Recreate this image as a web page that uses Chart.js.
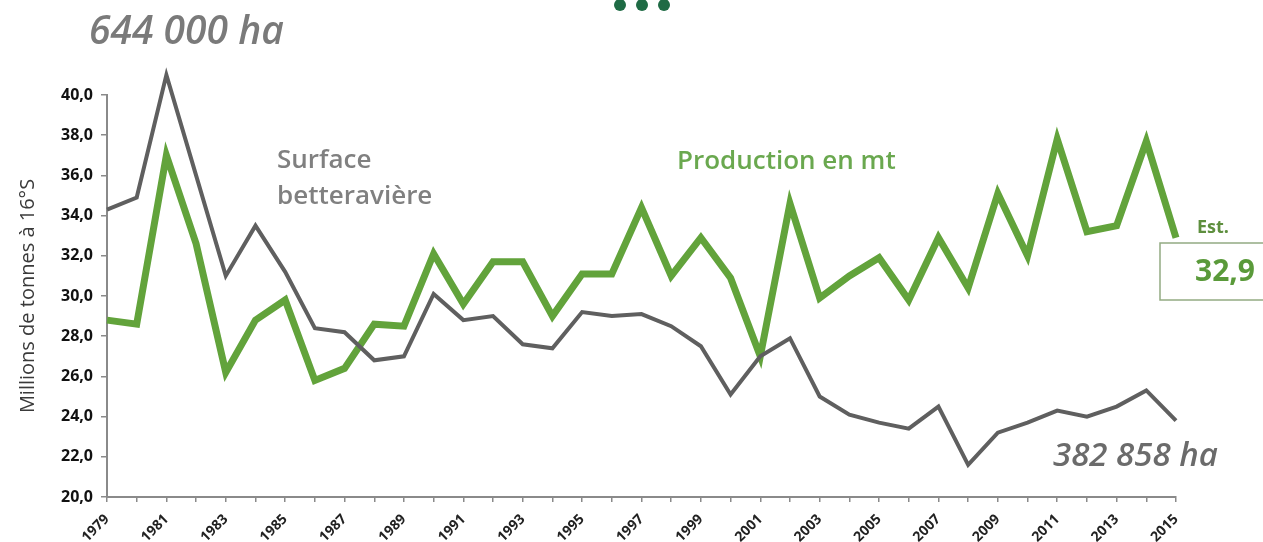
<!DOCTYPE html>
<html>
<head>
<meta charset="utf-8">
<script src="https://cdn.jsdelivr.net/npm/chart.js@4"></script>
<style>
  body { margin: 0; background: #fff; }
  #chart { display: block; }
</style>
</head>
<body>
<canvas id="chart" width="1263" height="542"></canvas>
<script>
// Data
const years = [];
for (let y = 1979; y <= 2015; y++) years.push(String(y));

const surface = [34.3, 34.9, 41.0, 36.0, 31.0, 33.5, 31.2, 28.4, 28.2, 26.8,
  27.0, 30.1, 28.8, 29.0, 27.6, 27.4, 29.2, 29.0, 29.1, 28.5,
  27.5, 25.1, 27.0, 27.9, 25.0, 24.1, 23.7, 23.4, 24.5, 21.6,
  23.2, 23.7, 24.3, 24.0, 24.5, 25.3, 23.8];

const production = [28.8, 28.6, 37.0, 32.6, 26.2, 28.8, 29.8, 25.8, 26.4, 28.6,
  28.5, 32.1, 29.6, 31.7, 31.7, 29.0, 31.1, 31.1, 34.4, 31.0,
  32.9, 30.9, 27.0, 34.6, 29.9, 31.0, 31.9, 29.8, 32.9, 30.4,
  35.1, 32.0, 37.8, 33.2, 33.5, 37.7, 32.9];

const yTicks = [20, 22, 24, 26, 28, 30, 32, 34, 36, 38, 40];

const axisColor = '#8a8a8a';
const greenLine = '#62a33b';
const grayLine = '#5f5f5f';

// Text annotations drawn on top
const annotations = {
    id: 'annotations',
    afterDraw(chart) {
        const ctx = chart.ctx;
        ctx.save();

        // three dots at top
        ctx.fillStyle = '#1f6b45';
        [620, 642, 664].forEach(x => {
            ctx.beginPath();
            ctx.arc(x, 5, 6, 0, Math.PI * 2);
            ctx.fill();
        });

        ctx.textBaseline = 'middle';
        ctx.textAlign = 'left';

        ctx.fillStyle = '#7a7a7a';
        ctx.font = 'italic 600 39px "Open Sans"';
        ctx.fillText('644 000 ha', 89, 33);

        ctx.fillStyle = '#808080';
        ctx.font = '600 26px "Open Sans"';
        ctx.fillText('Surface', 277, 161);
        ctx.fillText('betteravière', 277, 197);

        ctx.fillStyle = '#6aa84f';
        ctx.fillText('Production en mt', 677, 162);

        ctx.fillStyle = '#5e8f3e';
        ctx.font = 'bold 18px "Open Sans"';
        ctx.fillText('Est.', 1197, 228);

        ctx.strokeStyle = '#93ab82';
        ctx.lineWidth = 1.5;
        ctx.strokeRect(1160, 243, 110, 57);
        ctx.fillStyle = '#5a9a3a';
        ctx.font = 'bold 30px "Open Sans"';
        ctx.fillText('32,9', 1195, 272);

        ctx.fillStyle = '#6b6b6b';
        ctx.font = 'italic 600 33px "Open Sans"';
        ctx.fillText('382 858 ha', 1053, 457);

        ctx.restore();
    }
};

new Chart(document.getElementById('chart').getContext('2d'), {
    type: 'line',
    data: {
        labels: years,
        datasets: [{
            label: 'Surface betteravière',
            data: surface,
            borderColor: grayLine,
            borderWidth: 4,
            pointRadius: 0,
            tension: 0,
            clip: false
        }, {
            label: 'Production en mt',
            data: production,
            borderColor: greenLine,
            borderWidth: 7,
            pointRadius: 0,
            tension: 0,
            clip: false
        }]
    },
    options: {
        responsive: false,
        animation: false,
        layout: { padding: { top: 95, right: 87, left: 14, bottom: 0 } },
        plugins: {
            legend: { display: false },
            tooltip: { enabled: false }
        },
        scales: {
            x: {
                offset: false,
                border: { color: axisColor, width: 2 },
                grid: { drawOnChartArea: false, color: axisColor, tickLength: 5, lineWidth: 1.5 },
                afterFit: s => { s.height = 45; },
                ticks: {
                    autoSkip: false,
                    minRotation: 45,
                    maxRotation: 45,
                    color: '#222',
                    padding: 9,
                    font: { family: 'Open Sans', size: 14, weight: 'bold' },
                    callback: function (v, i) {
                        return i % 2 === 0 ? years[i] : '';
                    }
                }
            },
            y: {
                min: 20,
                max: 40,
                border: { color: axisColor, width: 2 },
                grid: { drawOnChartArea: false, color: axisColor, tickLength: 6, lineWidth: 1.5 },
                afterFit: s => { s.width = 93; },
                afterBuildTicks: s => { s.ticks = yTicks.map(v => ({ value: v })); },
                title: {
                    display: true,
                    text: 'Millions de tonnes à 16°S',
                    color: '#3a3a3a',
                    font: { family: 'Open Sans', size: 20 },
                    padding: { top: 2, bottom: 4 }
                },
                ticks: {
                    color: '#111',
                    padding: 8,
                    font: { family: 'Open Sans', size: 16, weight: 'bold' },
                    callback: v => v.toFixed(1).replace('.', ',')
                }
            }
        }
    },
    plugins: [annotations]
});
</script>
</body>
</html>
